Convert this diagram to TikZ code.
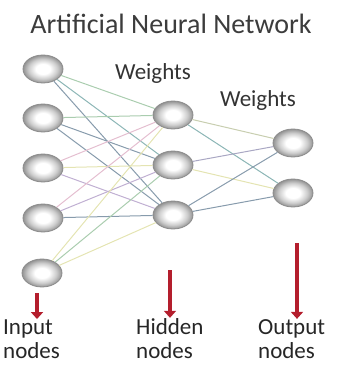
\documentclass[tikz,border=0pt]{standalone}
\usepackage{fontspec}
\setmainfont{Carlito}
\usepackage{tikz}
\usetikzlibrary{arrows.meta,shapes.geometric,positioning}
\definecolor{wA}{RGB}{135,155,172}
\definecolor{wB}{RGB}{170,205,175}
\definecolor{wC}{RGB}{228,190,208}
\definecolor{wD}{RGB}{228,228,178}
\definecolor{wE}{RGB}{192,175,210}
\definecolor{wF}{RGB}{140,182,182}
\definecolor{arrowred}{RGB}{180,30,45}
\definecolor{titlegray}{RGB}{60,60,60}
\pgfdeclareradialshading{ring}{\pgfpoint{0bp}{0bp}}{color(0bp)=(white); color(9bp)=(white); color(18bp)=(gray!40); color(25bp)=(gray!85); color(50bp)=(gray!85)}
\tikzset{%
	neuron/.style = {ellipse, draw=gray!90, line width=0.8pt, minimum width=40pt, minimum height=28pt, inner sep=0pt, shading=ring},
	weight/.style = {line width=1pt},
	layerarrow/.style = {line width=4.5pt, draw=arrowred, -{Triangle[width=12pt,length=7pt]}},
	layerlabel/.style = {font=\fontsize{23}{24}\selectfont, align=left, inner sep=0pt, text=black!85},
	weightlabel/.style = {font=\fontsize{23}{23}\selectfont, text=black!80, inner sep=0pt},
}

\begin{document}
\begin{tikzpicture}[x=1pt,y=-1pt]
	\useasboundingbox (0,0) rectangle (343,365);
	\node[font=\fontsize{28}{28}\selectfont, text=titlegray, anchor=base, inner sep=0pt] (title) at (171,33) {Artificial Neural Network};
	\node[neuron] (i1) at (43,69) {};
	\node[neuron] (i2) at (43,118) {};
	\node[neuron] (i3) at (43,168) {};
	\node[neuron] (i4) at (43,218) {};
	\node[neuron] (i5) at (42,273) {};
	\node[neuron] (h1) at (173,115) {};
	\node[neuron] (h2) at (173,165) {};
	\node[neuron] (h3) at (173,215) {};
	\node[neuron] (o1) at (293,143) {};
	\node[neuron] (o2) at (293,193) {};
	\foreach \i/\a/\b/\c in {1/wB/wF/wA, 2/wB/wA/wA, 3/wC/wD/wE, 4/wC/wE/wA, 5/wD/wB/wD}{
		\draw[weight,\a] (i\i) -- (h1);
		\draw[weight,\b] (i\i) -- (h2);
		\draw[weight,\c] (i\i) -- (h3);
	}
	\draw[weight,wD!70!wA] (h1) -- (o1);
	\draw[weight,wF] (h1) -- (o2);
	\draw[weight,wE!60!wA] (h2) -- (o1);
	\draw[weight,wD] (h2) -- (o2);
	\draw[weight,wA] (h3) -- (o1);
	\draw[weight,wA] (h3) -- (o2);
	\node[weightlabel, anchor=base] (w1) at (153,79) {Weights};
	\node[weightlabel, anchor=base] (w2) at (258,106) {Weights};
	\node[layerlabel, anchor=base west] (lin) at (3,358) {Input\\nodes};
	\node[layerlabel, anchor=base west] (lhid) at (136,358) {Hidden\\nodes};
	\node[layerlabel, anchor=base west] (lout) at (258,358) {Output\\nodes};
	\coordinate (ain) at (37,293);
	\coordinate (ahid) at (170,270);
	\coordinate (aout) at (297,243);
	\draw[layerarrow] (ain) -- (ain |- lin.north);
	\draw[layerarrow] (ahid) -- (ahid |- lhid.north);
	\draw[layerarrow] (aout) -- (aout |- lout.north);
\end{tikzpicture}
\end{document}
